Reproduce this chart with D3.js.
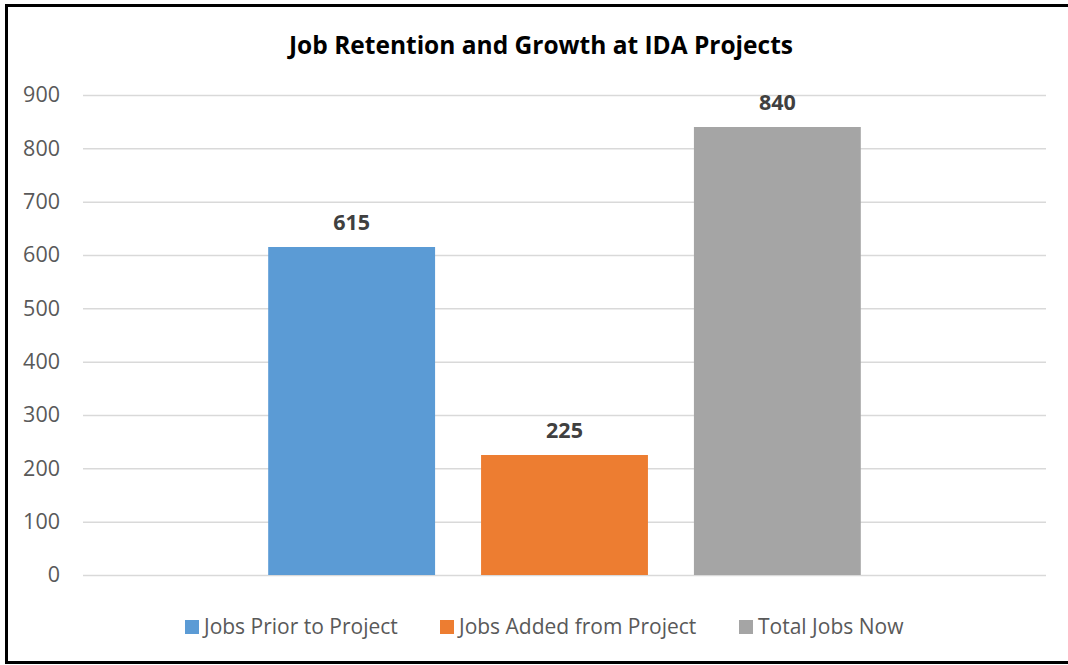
<!DOCTYPE html>
<html>
<head>
<meta charset="utf-8">
<script src="https://cdn.jsdelivr.net/npm/d3@7"></script>
<style>
  body { margin: 0; background: #fff; }
  svg { display: block; font-family: 'Open Sans', sans-serif; }
</style>
</head>
<body>
<script>
const series = ['Jobs Prior to Project', 'Jobs Added from Project', 'Total Jobs Now']
const values = [615, 225, 840]
const colors = ['#5b9bd5', '#ed7d31', '#a5a5a5']
const yTicks = [0, 100, 200, 300, 400, 500, 600, 700, 800, 900]
const title = 'Job Retention and Growth at IDA Projects'

const W = 1068
const H = 665
const PLOT = { LEFT: 83, RIGHT: 1046, TOP: 95, BOTTOM: 575 }

const svg = d3.select('body')
  .append('svg')
  .attr('width', W)
  .attr('height', H)

// frame (right side cut off in the original)
svg.append('rect')
  .attr('x', 6.5)
  .attr('y', 5.5)
  .attr('width', W + 20)
  .attr('height', H - 8)
  .attr('fill', 'none')
  .attr('stroke', '#000')
  .attr('stroke-width', 3)

svg.append('text')
  .text(title)
  .attr('x', 541)
  .attr('y', 54)
  .attr('text-anchor', 'middle')
  .attr('font-size', '24.5px')
  .attr('font-weight', 'bold')
  .attr('fill', '#000')

const y = d3.scaleLinear()
  .domain([0, 900])
  .range([PLOT.BOTTOM, PLOT.TOP])

const x = d3.scaleBand()
  .domain(series)
  .range([PLOT.LEFT, PLOT.RIGHT])
  .paddingInner(0.216)
  .paddingOuter(0.87)

// gridlines
const yAxis = d3.axisLeft(y)
  .tickValues(yTicks)
  .tickSize(-(PLOT.RIGHT - PLOT.LEFT))
  .tickPadding(23)

const gy = svg.append('g')
  .attr('transform', `translate(${PLOT.LEFT}, 0)`)
  .call(yAxis)
gy.select('.domain').remove()
gy.selectAll('.tick line')
  .attr('stroke', '#d9d9d9')
  .attr('stroke-width', 1.5)
gy.selectAll('.tick text')
  .attr('font-size', '21.5px')
  .attr('fill', '#595959')
  .attr('font-family', "'Open Sans', sans-serif")

// bars
svg.append('g')
  .selectAll('rect')
  .data(values)
  .join('rect')
  .attr('x', (d, i) => x(series[i]))
  .attr('y', d => y(d))
  .attr('width', x.bandwidth())
  .attr('height', d => y(0) - y(d))
  .attr('fill', (d, i) => colors[i])

// value labels
svg.append('g')
  .selectAll('text')
  .data(values)
  .join('text')
  .text(d => d)
  .attr('x', (d, i) => x(series[i]) + x.bandwidth() / 2)
  .attr('y', d => y(d) - 17)
  .attr('text-anchor', 'middle')
  .attr('font-size', '21.5px')
  .attr('font-weight', 'bold')
  .attr('fill', '#404040')

// legend
const legendX = [185, 440, 739]
const legend = svg.append('g')
  .selectAll('g')
  .data(series)
  .join('g')
  .attr('transform', (d, i) => `translate(${legendX[i]}, 620)`)
legend.append('rect')
  .attr('width', 14)
  .attr('height', 14)
  .attr('fill', (d, i) => colors[i])
legend.append('text')
  .text(d => d)
  .attr('x', 19)
  .attr('y', 14)
  .attr('font-size', '21px')
  .attr('fill', '#595959')
</script>
</body>
</html>
